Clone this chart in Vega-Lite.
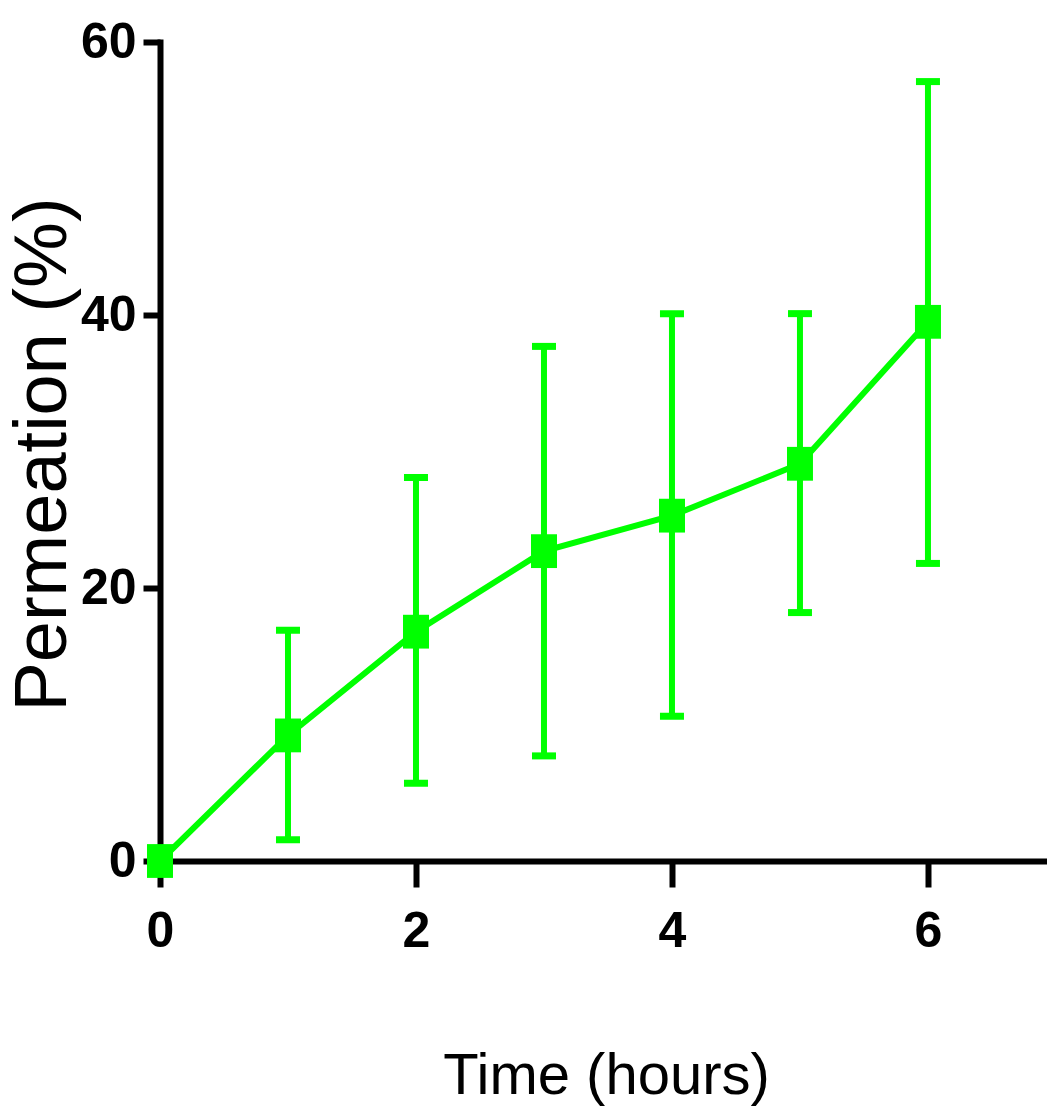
{
  "$schema": "https://vega.github.io/schema/vega-lite/v6.json",
  "autosize": {"type": "none"},
  "width": 887,
  "height": 819,
  "padding": {"left": 160, "top": 42, "right": 0, "bottom": 247},
  "background": "white",
  "config": {
    "view": {"stroke": null},
    "axis": {
      "grid": false,
      "domainColor": "black",
      "domainWidth": 6,
      "domainCap": "square",
      "tickColor": "black",
      "tickWidth": 6,
      "labelColor": "black",
      "labelFont": "Liberation Sans",
      "labelFontWeight": "bold",
      "labelFontSize": 50,
      "titleColor": "black",
      "titleFontWeight": "normal"
    }
  },
  "data": {
    "values": [
      {"time": 0, "perm": 0, "lower": 0, "upper": 0},
      {"time": 1, "perm": 9.2, "lower": 1.55, "upper": 16.9},
      {"time": 2, "perm": 16.8, "lower": 5.7, "upper": 28.1},
      {"time": 3, "perm": 22.7, "lower": 7.7, "upper": 37.7},
      {"time": 4, "perm": 25.3, "lower": 10.6, "upper": 40.1},
      {"time": 5, "perm": 29.1, "lower": 18.2, "upper": 40.1},
      {"time": 6, "perm": 39.5, "lower": 21.8, "upper": 57.1}
    ]
  },
  "encoding": {
    "x": {
      "field": "time",
      "type": "quantitative",
      "scale": {"domain": [0, 6.93], "nice": false, "zero": false},
      "axis": {
        "values": [0, 2, 4, 6],
        "title": "Time (hours)",
        "titleFont": "Liberation Sans",
        "titleFontSize": 58,
        "titleBaseline": "alphabetic",
        "titleY": 232,
        "titleX": 446,
        "titleAnchor": null,
        "titleAlign": "center",
        "tickSize": 26,
        "labelPadding": 19,
        "labelFlush": false,
        "labelOverlap": false
      }
    },
    "y": {
      "field": "perm",
      "type": "quantitative",
      "scale": {"domain": [0, 60], "nice": false},
      "axis": {
        "values": [0, 20, 40, 60],
        "title": "Permeation (%)",
        "titleFont": "Liberation Sans",
        "titleFontSize": 74,
        "titleAngle": -90,
        "titleBaseline": "alphabetic",
        "titleX": -95,
        "titleY": 412,
        "titleAlign": "center",
        "tickSize": 17,
        "labelPadding": 7,
        "labelFlush": false,
        "labelOverlap": false
      }
    }
  },
  "layer": [
    {
      "mark": {"type": "line", "color": "#00ff00", "strokeWidth": 6}
    },
    {
      "mark": {"type": "rule", "color": "#00ff00", "strokeWidth": 6},
      "encoding": {
        "y": {"field": "lower", "type": "quantitative"},
        "y2": {"field": "upper"}
      }
    },
    {
      "mark": {"type": "tick", "color": "#00ff00", "orient": "horizontal", "size": 24, "thickness": 7, "opacity": 1},
      "encoding": {"y": {"field": "upper", "type": "quantitative"}}
    },
    {
      "mark": {"type": "tick", "color": "#00ff00", "orient": "horizontal", "size": 24, "thickness": 7, "opacity": 1},
      "encoding": {"y": {"field": "lower", "type": "quantitative"}}
    },
    {
      "mark": {"type": "point", "shape": "M-1,-1.3H1V1.3H-1Z", "filled": true, "color": "#00ff00", "size": 676, "opacity": 1}
    }
  ]
}
